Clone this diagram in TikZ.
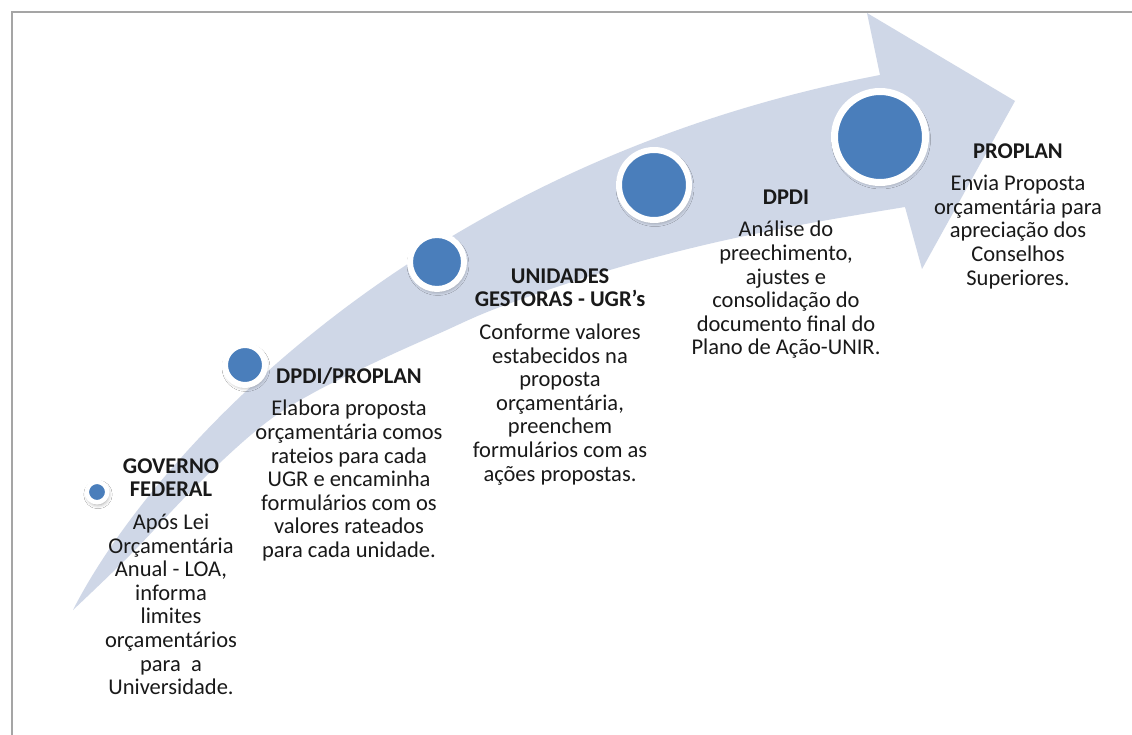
\documentclass[tikz,border=0pt]{standalone}
\usepackage{fontspec}
\setmainfont{Carlito}
\usetikzlibrary{shadows.blur}
\definecolor{bandc}{RGB}{207,215,231}
\definecolor{dotc}{RGB}{74,126,187}
\definecolor{framec}{RGB}{165,165,165}
\definecolor{txtc}{RGB}{25,25,25}
\begin{document}
\begin{tikzpicture}[x=1pt,y=-1pt,
  dot/.style={circle, fill=dotc, draw=white, inner sep=0pt,
    blur shadow={shadow xshift=1pt, shadow yshift=-2.5pt, shadow blur radius=4pt, shadow opacity=40}},
  stepblock/.style={anchor=north, align=center, inner sep=0pt, text=txtc,
    font=\fontsize{22.5}{23.6}\selectfont}]
\useasboundingbox (0,0) rectangle (1132,735);
\fill[white] (0,0) rectangle (1132,735);
% frame
\draw[framec, line width=1.5pt] (12,735) -- (12,12) -- (1132,12);
% curved arrow
\fill[bandc] (73,610) .. controls (148,462) and (410,165) .. (880,75)
  -- (867,13) -- (1015,101) -- (922,269) -- (905,207)
  -- plot[smooth, tension=0.6] coordinates {(905,207) (800,225) (700,246) (600,273) (500,307) (440,333) (380,360) (313,393) (263,425) (200,482) (130,555) (73,610)}
  -- cycle;
% dots
\node[dot, line width=4.5pt, minimum size=20.5pt] (d1) at (97,492) {};
\node[dot, line width=6pt, minimum size=40pt] (d2) at (245,365) {};
\node[dot, line width=6pt, minimum size=54pt] (d3) at (437,262) {};
\node[dot, line width=6pt, minimum size=70pt] (d4) at (654,185) {};
\node[dot, line width=7pt, minimum size=91pt] (d5) at (880,137) {};
% texts
\node[stepblock] (t1) at (171,455) {\rule{0pt}{18pt}\textbf{GOVERNO}\\\textbf{FEDERAL}\\[9pt]Após Lei\\Orçamentária\\Anual - LOA,\\informa\\limites\\orçamentários\\para~ a\\Universidade.};
\node[stepblock] (t2) at (349,365) {\rule{0pt}{18pt}\textbf{DPDI/PROPLAN}\\[9pt]Elabora proposta\\orçamentária comos\\rateios para cada\\UGR e encaminha\\formulários com os\\valores rateados\\para cada unidade.};
\node[stepblock] (t3) at (560,265) {\rule{0pt}{18pt}\textbf{UNIDADES}\\\textbf{GESTORAS - UGR's}\\[9pt]Conforme valores\\estabecidos na\\proposta\\orçamentária,\\preenchem\\formulários com as\\ações propostas.};
\node[stepblock] (t4) at (786,186) {\rule{0pt}{18pt}\textbf{DPDI}\\[9pt]Análise do\\preechimento,\\ajustes e\\consolidação do\\documento final do\\Plano de Ação-UNIR.};
\node[stepblock] (t5) at (1018,140) {\rule{0pt}{18pt}\textbf{PROPLAN}\\[9pt]Envia Proposta\\orçamentária para\\apreciação dos\\Conselhos\\Superiores.};
\end{tikzpicture}
\end{document}
